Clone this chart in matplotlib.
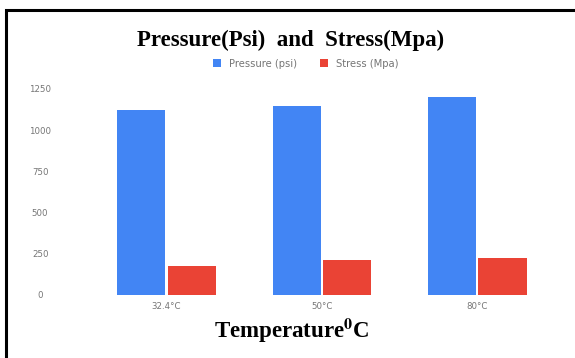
import matplotlib
matplotlib.use("Agg")
import matplotlib.pyplot as plt
import numpy as np
from matplotlib.patches import Rectangle

# data
temps = ["32.4\u00b0C", "50\u00b0C", "80\u00b0C"]
pressure = [1123, 1147, 1201]
stress = [176, 212, 225]
yticks = [0, 250, 500, 750, 1000, 1250]

blue = "#4285F4"
red = "#EA4335"
grey = "#757575"

plt.rcParams["mathtext.fontset"] = "stix"

fig = plt.figure(figsize=(5.75, 3.58), dpi=100)
ax = fig.add_axes([0.1543, 0.176, 0.8109, 0.5754])

x = np.arange(len(temps))
w = 0.31
ax.bar(x - 0.162, pressure, w, color=blue, label="Pressure (psi)")
ax.bar(x + 0.162, stress, w, color=red, label="Stress (Mpa)")

ax.set_xlim(-0.5, 2.5)
ax.set_ylim(0, 1250)
ax.set_yticks(yticks)
ax.set_yticklabels([str(v) for v in yticks])
ax.set_xticks(x)
ax.set_xticklabels(temps)
ax.tick_params(length=0, labelsize=6.2, labelcolor=grey)
ax.tick_params(axis="y", pad=35)
ax.tick_params(axis="x", pad=5)
for lab in ax.get_yticklabels():
    lab.set_horizontalalignment("center")
for s in ax.spines.values():
    s.set_visible(False)

fig.text(0.505, 0.888, "Pressure(Psi)  and  Stress(Mpa)", ha="center", va="center",
         family="Liberation Serif", weight="bold", fontsize=16.5)
fig.text(0.508, 0.075, r"Temperature$^\mathbf{0}$C", ha="center", va="center",
         family="Liberation Serif", weight="bold", fontsize=16.5)

fig.legend(loc="center", bbox_to_anchor=(0.532, 0.822), ncol=2, frameon=False,
           fontsize=7.2, labelcolor=grey, handlelength=0.8, handleheight=0.8,
           handletextpad=0.8, columnspacing=2.3)

# black frame on top and left
fig.patches.append(Rectangle((0.0096, -0.1), 1.2, 1.072, transform=fig.transFigure,
                             fill=False, edgecolor="black", linewidth=2.2))

fig.savefig("out.png", dpi=100)
